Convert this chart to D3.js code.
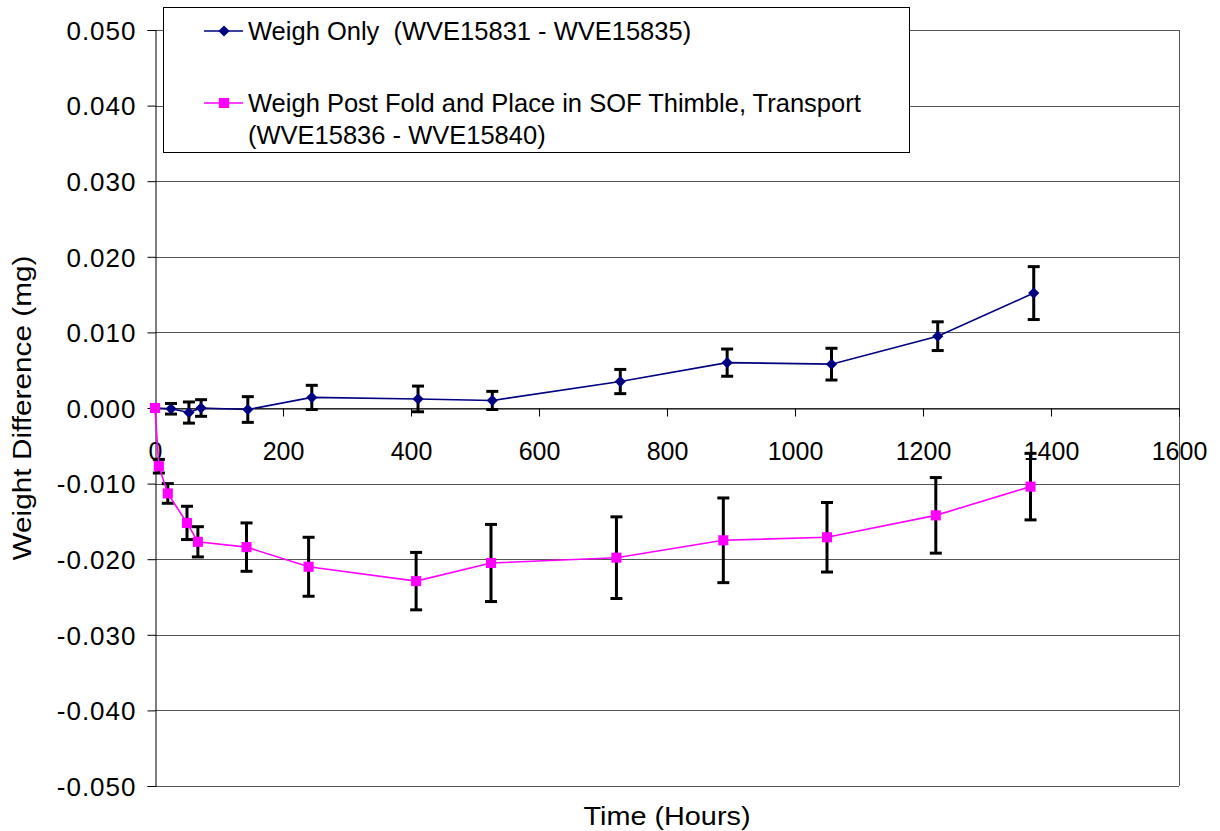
<!DOCTYPE html>
<html>
<head>
<meta charset="utf-8">
<script src="https://cdn.jsdelivr.net/npm/d3@7"></script>
<style>
  body { margin: 0; background: #fff; }
  svg { display: block; font-family: Arial, "Liberation Sans", sans-serif; }
  .axis text { fill: #000; }
  .axis path, .axis line { stroke: #000; }
</style>
</head>
<body>
<div id="chart"></div>
<script>
// Weigh Only (WVE15831 - WVE15835)
const hoursA = [0, 25, 53, 72, 145, 245, 411, 527, 727, 894, 1057, 1223, 1373];
const weightA = [0, -0.0001, -0.0006, 0.0000, -0.0002, 0.0014, 0.0012, 0.0010, 0.0035, 0.0060, 0.0058, 0.0095, 0.0152];
const errA = [0, 0.0007, 0.0014, 0.0011, 0.0017, 0.0016, 0.0017, 0.0012, 0.0016, 0.0018, 0.0021, 0.0019, 0.0035];

// Weigh Post Fold and Place in SOF Thimble, Transport (WVE15836 - WVE15840)
const hoursB = [0, 6, 20, 50, 67, 143, 240, 408, 525, 721, 888, 1050, 1220, 1368];
const weightB = [0, -0.0077, -0.0113, -0.0152, -0.0177, -0.0184, -0.0210, -0.0229, -0.0205, -0.0198, -0.0175, -0.0171, -0.0142, -0.0104];
const errB = [0, 0.0009, 0.0013, 0.0022, 0.0020, 0.0032, 0.0039, 0.0038, 0.0051, 0.0054, 0.0056, 0.0046, 0.0050, 0.0044];

const xTicks = [0, 200, 400, 600, 800, 1000, 1200, 1400, 1600];
const yTicks = [-0.05, -0.04, -0.03, -0.02, -0.01, 0, 0.01, 0.02, 0.03, 0.04, 0.05];

const width = 1220, height = 831;
const margin = {top: 30, right: 41, bottom: 45, left: 155};

const svg = d3.select("#chart").append("svg")
    .attr("width", width)
    .attr("height", height);

const x = d3.scaleLinear().domain([0, 1600]).range([margin.left, width - margin.right]);
const y = d3.scaleLinear().domain([-0.05, 0.05]).range([height - margin.bottom, margin.top]);

// gridlines
svg.append("g")
    .selectAll("line")
    .data(yTicks)
    .join("line")
    .attr("x1", x(0))
    .attr("x2", x(1600))
    .attr("y1", d => Math.round(y(d)) + 0.5)
    .attr("y2", d => Math.round(y(d)) + 0.5)
    .attr("stroke", "#555")
    .attr("stroke-width", 1);

// right border of the plot area
svg.append("line")
    .attr("x1", Math.round(x(1600)) + 0.5)
    .attr("x2", Math.round(x(1600)) + 0.5)
    .attr("y1", y(0.05))
    .attr("y2", y(-0.05))
    .attr("stroke", "#555");

const fmt = d3.format(".3f");

// y axis
svg.append("g")
    .attr("class", "axis")
    .attr("transform", "translate(" + (Math.round(x(0)) + 0.5) + ",0)")
    .call(d3.axisLeft(y).tickValues(yTicks).tickSize(8).tickPadding(11)
        .tickFormat(d => fmt(d).replace("\u2212", "-")))
    .call(g => g.selectAll("text")
        .attr("dy", "0.36em")
        .style("font-size", "26px")
        .style("letter-spacing", "1px"));

// x axis, sitting on the zero line
svg.append("g")
    .attr("class", "axis")
    .attr("transform", "translate(0," + (Math.round(y(0)) + 0.5) + ")")
    .call(d3.axisBottom(x).tickValues(xTicks).tickSize(8).tickPadding(26).tickFormat(d3.format("d")))
    .call(g => g.selectAll("text").style("font-size", "25px"));

// axis titles
svg.append("text")
    .attr("x", x(800))
    .attr("y", 825)
    .attr("text-anchor", "middle")
    .attr("textLength", 167)
    .attr("lengthAdjust", "spacingAndGlyphs")
    .style("font-size", "26px")
    .text("Time (Hours)");

svg.append("text")
    .attr("transform", "translate(31," + 408 + ") rotate(-90)")
    .attr("text-anchor", "middle")
    .attr("textLength", 305)
    .attr("lengthAdjust", "spacingAndGlyphs")
    .style("font-size", "26px")
    .text("Weight Difference (mg)");

function drawSeries(hours, vals, errs, color, shape, size) {
    const pts = hours.map((h, i) => ({h: h, v: vals[i], e: errs[i]}));
    const g = svg.append("g");

    // error bars
    const eb = g.selectAll(".err")
        .data(pts.filter(d => d.e > 0))
        .join("g")
        .attr("stroke", "#000")
        .attr("stroke-width", 3);
    eb.append("line")
        .attr("x1", d => x(d.h)).attr("x2", d => x(d.h))
        .attr("y1", d => y(d.v + d.e)).attr("y2", d => y(d.v - d.e));
    eb.append("line")
        .attr("x1", d => x(d.h) - 6).attr("x2", d => x(d.h) + 6)
        .attr("y1", d => y(d.v + d.e)).attr("y2", d => y(d.v + d.e));
    eb.append("line")
        .attr("x1", d => x(d.h) - 6).attr("x2", d => x(d.h) + 6)
        .attr("y1", d => y(d.v - d.e)).attr("y2", d => y(d.v - d.e));

    g.append("path")
        .datum(pts)
        .attr("fill", "none")
        .attr("stroke", color)
        .attr("stroke-width", 1.6)
        .attr("d", d3.line().x(d => x(d.h)).y(d => y(d.v)));

    g.selectAll(".mark")
        .data(pts)
        .join("path")
        .attr("transform", d => "translate(" + x(d.h) + "," + y(d.v) + ")")
        .attr("d", d3.symbol().type(shape).size(size))
        .attr("fill", color);
}

drawSeries(hoursA, weightA, errA, "#000080", d3.symbolDiamond2, 80);
drawSeries(hoursB, weightB, errB, "#ff00ff", d3.symbolSquare2, 130);

// legend
const legend = svg.append("g");
legend.append("rect")
    .attr("x", 163.5).attr("y", 7.5)
    .attr("width", 746).attr("height", 145)
    .attr("fill", "#fff")
    .attr("stroke", "#000");

const legendItems = [
    {color: "#000080", shape: d3.symbolDiamond2, size: 80, y: 31, lines: ["Weigh Only  (WVE15831 - WVE15835)"]},
    {color: "#ff00ff", shape: d3.symbolSquare2, size: 130, y: 103, lines: ["Weigh Post Fold and Place in SOF Thimble, Transport", "(WVE15836 - WVE15840)"]}
];

legendItems.forEach(item => {
    legend.append("line")
        .attr("x1", 204).attr("x2", 243)
        .attr("y1", item.y).attr("y2", item.y)
        .attr("stroke", item.color).attr("stroke-width", 1.6);
    legend.append("path")
        .attr("transform", "translate(224," + item.y + ")")
        .attr("d", d3.symbol().type(item.shape).size(item.size))
        .attr("fill", item.color);
    item.lines.forEach((t, i) => {
        legend.append("text")
            .attr("x", 248)
            .attr("y", item.y + 9 + i * 32)
            .style("font-size", "25.5px")
            .style("white-space", "pre")
            .text(t);
    });
});
</script>
</body>
</html>
